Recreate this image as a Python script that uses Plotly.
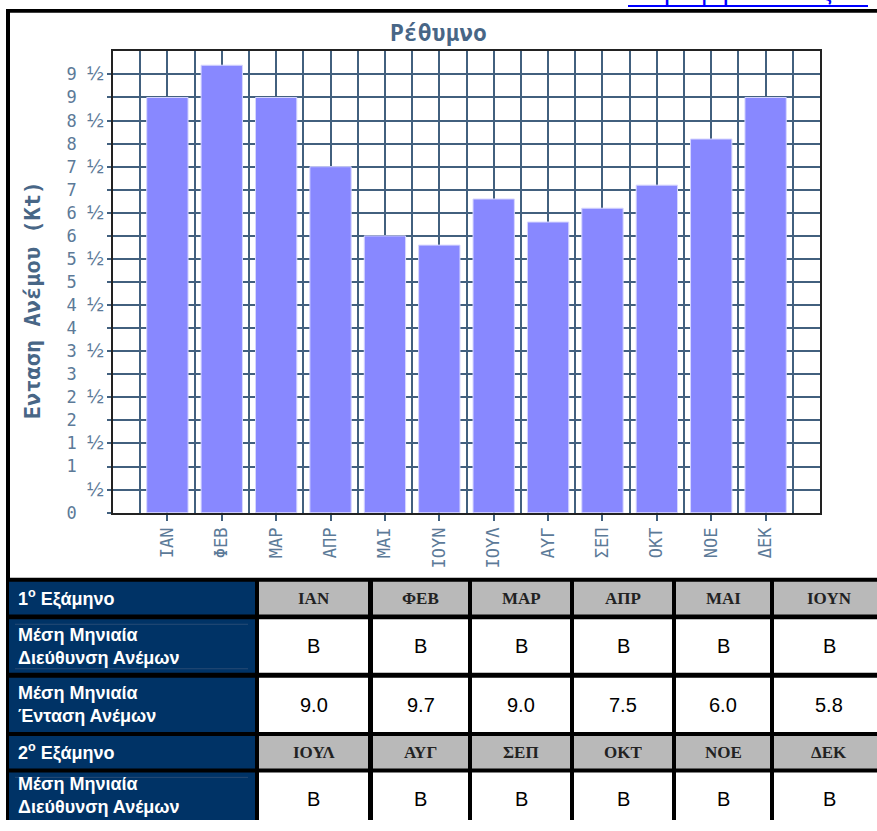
import plotly.graph_objects as go

# ---- data -------------------------------------------------------------
MONTHS = ["ΙΑΝ", "ΦΕΒ", "ΜΑΡ", "ΑΠΡ", "ΜΑΙ", "ΙΟΥΝ",
          "ΙΟΥΛ", "ΑΥΓ", "ΣΕΠ", "ΟΚΤ", "ΝΟΕ", "ΔΕΚ"]
WIND_SPEED = [9.0, 9.7, 9.0, 7.5, 6.0, 5.8, 6.8, 6.3, 6.6, 7.1, 8.1, 9.0]
WIND_DIR = ["Β", "Β", "Β", "Β", "Β", "Β", "Β", "Β", "Β", "Β", "Β", "Β"]
Y_TICK_VALUES = [0, 0.5, 1, 1.5, 2, 2.5, 3, 3.5, 4, 4.5, 5, 5.5,
                 6, 6.5, 7, 7.5, 8, 8.5, 9, 9.5]

TITLE = "Ρέθυμνο"
Y_TITLE = "Ενταση Ανέμου (Kt)"
ROW_DIR = "Μέση Μηνιαία<br>Διεύθυνση Ανέμων"
ROW_SPEED = "Μέση Μηνιαία<br>Ένταση Ανέμων"
HALF_1 = "1<sup>o</sup> Εξάμηνο"
HALF_2 = "2<sup>o</sup> Εξάμηνο"
TOP_LINK = "Κορυφή Σελίδας"

# ---- page geometry (pixels) -------------------------------------------
W, H = 877, 820
PLOT_X = (113, 820)
PLOT_Y = (52, 519)


def px(x):
    return x / W


def py(y):
    return 1 - y / H


STEEL = "rgb(72,102,134)"
TICK_COL = "rgb(92,122,152)"
GRID_COL = "rgb(66,96,126)"
NAVY = "#003366"
GREY = "#b9b9b9"
MONO = "DejaVu Sans Mono, monospace"
SANS = "Liberation Sans, Arial, sans-serif"
SERIF = "Liberation Serif, Times New Roman, serif"

HALF_GLYPH = "<span style='font-family:Liberation Sans;font-size:20px{}'>½</span>"
HIDE_DIGIT = "<span style='color:rgba(0,0,0,0)'>0</span>"


def tick_label(v):
    whole = int(v)
    half = (v - whole) > 0
    digit = str(whole) if (whole > 0 or not half) else HIDE_DIGIT
    frac = HALF_GLYPH.format("" if half else ";color:rgba(0,0,0,0)")
    return f"{digit} {frac}"


fig = go.Figure()

fig.add_trace(go.Bar(
    x=list(range(len(MONTHS))),
    y=WIND_SPEED,
    width=0.76,
    marker=dict(color="#8888ff", line=dict(color="rgb(214,214,255)", width=1)),
    hoverinfo="skip",
))

shapes = []
annotations = []

# black frame and white chart cell
shapes.append(dict(type="rect", xref="paper", yref="paper", layer="below",
                   x0=px(6), x1=px(884), y0=py(9), y1=py(900),
                   fillcolor="black", line=dict(width=0)))
shapes.append(dict(type="rect", xref="paper", yref="paper", layer="below",
                   x0=px(10), x1=px(884), y0=py(13), y1=py(585),
                   fillcolor="white", line=dict(width=0)))

# ---- table under the chart ---------------------------------------------
COL_X = [(9, 255), (259, 368), (373, 468), (472, 570), (574, 672),
         (676, 770), (774, 884)]
ROW_Y = [(589, 622), (627, 681), (686, 741), (745, 778), (782, 836)]
# vertical nudge of the row label, keeps the last label inside the page
LABEL_SHIFT = [0, 0, 0, 0, -4]

rows = [
    ("head", HALF_1, MONTHS[:6]),
    ("cell", ROW_DIR, WIND_DIR[:6]),
    ("cell", ROW_SPEED, [f"{v:.1f}" for v in WIND_SPEED[:6]]),
    ("head", HALF_2, MONTHS[6:]),
    ("cell", ROW_DIR, WIND_DIR[6:]),
]

for r, (kind, label, values) in enumerate(rows):
    y0, y1 = ROW_Y[r]
    # row label cell
    lx0, lx1 = COL_X[0]
    shapes.append(dict(type="rect", xref="paper", yref="paper", layer="below",
                       x0=px(lx0), x1=px(lx1), y0=py(y0), y1=py(y1),
                       fillcolor=NAVY, line=dict(width=0)))
    if r in (1, 4):
        for yy in (y0 + 5, y1 - 4):
            shapes.append(dict(type="line", xref="paper", yref="paper",
                               layer="below", x0=px(15), x1=px(248),
                               y0=py(yy), y1=py(yy),
                               line=dict(color="rgb(38,74,116)", width=1)))
    annotations.append(dict(
        xref="paper", yref="paper", x=px(16),
        y=py((y0 + y1) / 2 + LABEL_SHIFT[r]),
        xanchor="left", yanchor="middle", align="left", showarrow=False,
        text=f"<b>{label}</b>",
        font=dict(family=SANS, size=18, color="white")))
    for c, val in enumerate(values):
        cx0, cx1 = COL_X[c + 1]
        shapes.append(dict(type="rect", xref="paper", yref="paper", layer="below",
                           x0=px(cx0), x1=px(cx1), y0=py(y0), y1=py(y1),
                           fillcolor=GREY if kind == "head" else "white",
                           line=dict(width=0)))
        if kind == "head":
            txt, fnt = f"<b>{val}</b>", dict(family=SERIF, size=17, color="#222222")
        else:
            txt, fnt = val, dict(family=SANS, size=20, color="black")
        annotations.append(dict(
            xref="paper", yref="paper", x=px((cx0 + cx1) / 2),
            y=py((y0 + y1) / 2), xanchor="center", yanchor="middle",
            showarrow=False, text=txt, font=fnt))

# ---- chart texts -------------------------------------------------------
annotations.append(dict(
    xref="paper", yref="paper", x=px(438), y=py(33), xanchor="center",
    yanchor="middle", showarrow=False, text=f"<b>{TITLE}</b>",
    font=dict(family=MONO, size=23, color=STEEL)))
annotations.append(dict(
    xref="paper", yref="paper", x=px(32), y=py(304), xanchor="center",
    yanchor="middle", showarrow=False, textangle=-90, text=f"<b>{Y_TITLE}</b>",
    font=dict(family=MONO, size=22, color=STEEL)))

# link text at the very top, mostly above the page edge
annotations.append(dict(
    xref="paper", yref="paper", x=px(628), y=py(8), xanchor="left",
    yanchor="bottom", showarrow=False, text=TOP_LINK,
    font=dict(family=SANS, size=28, color="#0000ff")))
shapes.append(dict(type="line", xref="paper", yref="paper", layer="above",
                   x0=px(628), x1=px(868), y0=py(6), y1=py(6),
                   line=dict(color="#0000ff", width=2)))

fig.update_layout(
    width=W, height=H, autosize=False,
    margin=dict(l=0, r=0, t=0, b=0, pad=0),
    paper_bgcolor="white", plot_bgcolor="rgba(0,0,0,0)",
    showlegend=False, hovermode=False,
    shapes=shapes, annotations=annotations,
    xaxis=dict(
        domain=[px(PLOT_X[0]), px(PLOT_X[1])],
        range=[-1, 12],
        tickmode="array",
        tickvals=list(range(len(MONTHS))),
        ticktext=MONTHS,
        tickangle=-90,
        tickfont=dict(family=MONO, size=17, color=TICK_COL),
        ticks="outside", ticklen=6, tickwidth=2, tickcolor=GRID_COL,
        showgrid=True, gridcolor=GRID_COL, gridwidth=2,
        minor=dict(tickvals=[i - 0.5 for i in range(len(MONTHS) + 1)],
                   showgrid=True, gridcolor=GRID_COL, gridwidth=2, ticks=""),
        showline=True, linecolor="#222222", linewidth=2, mirror=True,
        zeroline=False, fixedrange=True,
    ),
    yaxis=dict(
        domain=[py(PLOT_Y[1]), py(PLOT_Y[0])],
        range=[0, 10],
        tickmode="array",
        tickvals=Y_TICK_VALUES,
        ticktext=[tick_label(v) for v in Y_TICK_VALUES],
        tickfont=dict(family=MONO, size=17, color=TICK_COL),
        ticks="outside", ticklen=4, tickwidth=2, tickcolor=GRID_COL,
        showgrid=True, gridcolor=GRID_COL, gridwidth=2,
        showline=True, linecolor="#222222", linewidth=2, mirror=True,
        zeroline=False, fixedrange=True,
    ),
)

fig.write_html("out.html", config={"displayModeBar": False})
